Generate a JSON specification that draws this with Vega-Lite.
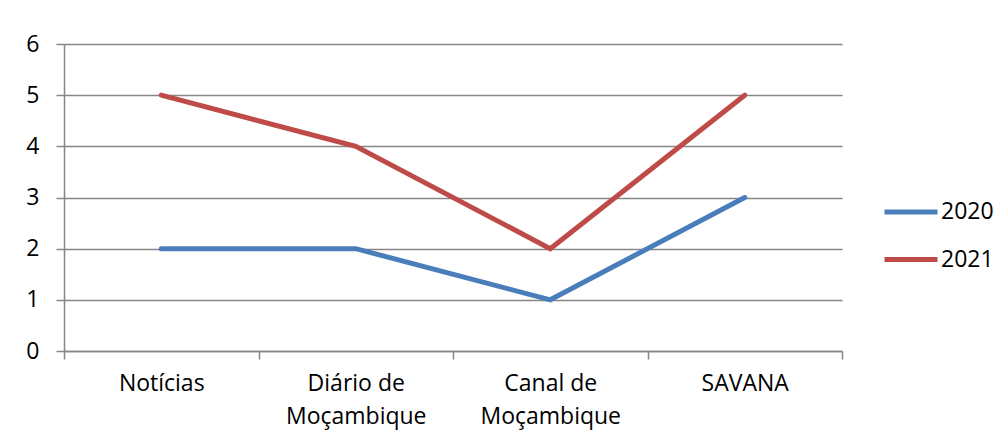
{
  "$schema": "https://vega.github.io/schema/vega-lite/v6.json",
  "width": 778,
  "height": 307,
  "autosize": {"type": "none"},
  "padding": {"left": 64, "top": 44, "right": 165, "bottom": 92},
  "background": "white",
  "config": {"view": {"stroke": null}, "font": "Open Sans"},
  "data": {
    "values": [
      {"meio": "Notícias", "ano": "2020", "valor": 2},
      {"meio": "Diário de Moçambique", "ano": "2020", "valor": 2},
      {"meio": "Canal de Moçambique", "ano": "2020", "valor": 1},
      {"meio": "SAVANA", "ano": "2020", "valor": 3},
      {"meio": "Notícias", "ano": "2021", "valor": 5},
      {"meio": "Diário de Moçambique", "ano": "2021", "valor": 4},
      {"meio": "Canal de Moçambique", "ano": "2021", "valor": 2},
      {"meio": "SAVANA", "ano": "2021", "valor": 5}
    ]
  },
  "mark": {"type": "line", "strokeWidth": 5, "strokeCap": "round"},
  "encoding": {
    "x": {
      "field": "meio",
      "type": "nominal",
      "sort": ["Notícias", "Diário de Moçambique", "Canal de Moçambique", "SAVANA"],
      "scale": {"type": "band", "paddingInner": 0, "paddingOuter": 0},
      "axis": {
        "title": null,
        "labelAngle": 0,
        "tickBand": "extent",
        "tickSize": 8,
        "tickWidth": 1.5,
        "tickColor": "#868686",
        "domainColor": "#868686",
        "domainWidth": 1.5,
        "grid": false,
        "labelFontSize": 23,
        "labelColor": "#000000",
        "labelPadding": 13,
        "labelLineHeight": 33,
        "labelBaseline": "top",
        "labelExpr": "datum.label == 'Diário de Moçambique' ? ['Diário de', 'Moçambique'] : datum.label == 'Canal de Moçambique' ? ['Canal de', 'Moçambique'] : datum.label"
      }
    },
    "y": {
      "field": "valor",
      "type": "quantitative",
      "scale": {"domain": [0, 6]},
      "axis": {
        "title": null,
        "values": [0, 1, 2, 3, 4, 5, 6],
        "tickSize": 8,
        "tickWidth": 1.5,
        "tickColor": "#868686",
        "domainColor": "#868686",
        "domainWidth": 1.5,
        "gridColor": "#868686",
        "gridWidth": 1.5,
        "labelFontSize": 23,
        "labelColor": "#000000",
        "labelPadding": 17
      }
    },
    "color": {
      "field": "ano",
      "type": "nominal",
      "scale": {"domain": ["2020", "2021"], "range": ["#4A7EBB", "#BE4B48"]},
      "legend": {
        "title": null,
        "orient": "none",
        "legendX": 831,
        "legendY": 152,
        "padding": 0,
        "symbolType": "M-2,0H2",
        "symbolSize": 702,
        "symbolStrokeWidth": 5,
        "rowPadding": 19.5,
        "labelOffset": 14,
        "labelFontSize": 23,
        "labelColor": "#000000"
      }
    }
  }
}
